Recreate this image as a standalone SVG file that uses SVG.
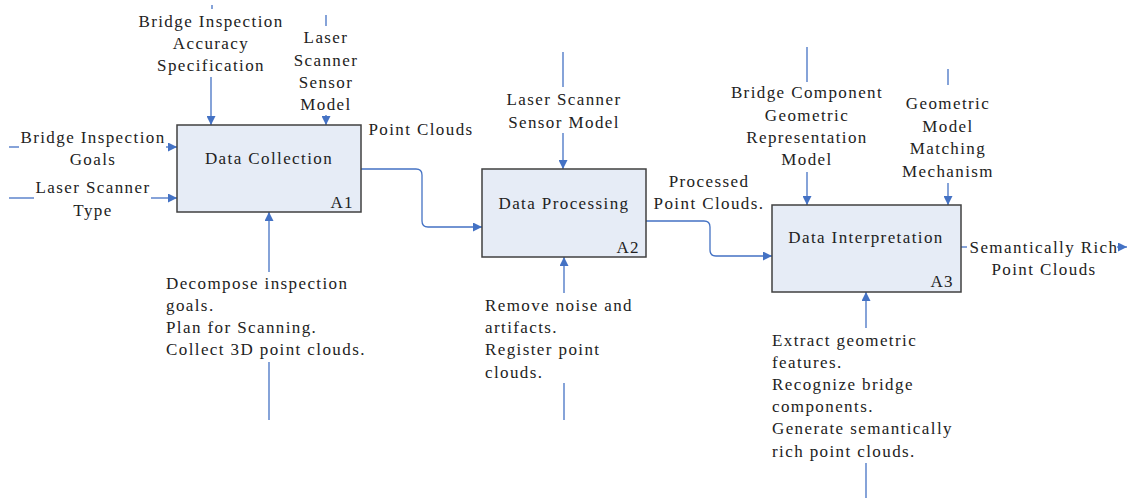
<svg xmlns="http://www.w3.org/2000/svg" width="1127" height="500" viewBox="0 0 1127 500">
<defs>
<marker id="arr" viewBox="0 0 10 10" refX="10" refY="5" markerWidth="9" markerHeight="9" markerUnits="userSpaceOnUse" orient="auto"><path d="M0,0 L10,5 L0,10 z" fill="#4472C4"/></marker>
<style>
.box{fill:#E6ECF6;stroke:#404040;stroke-width:1.5}
text{font-family:"Liberation Serif","Times New Roman",serif;font-size:17px;fill:#222;letter-spacing:1.4px}
.c{text-anchor:middle}
.e{text-anchor:end}
.ln{fill:none;stroke:#4472C4;stroke-width:1.3}
.a{marker-end:url(#arr)}
</style>
</defs>
<rect width="1127" height="500" fill="#fff"/>
<g id="connectors">
<path class="ln" d="M9,147 H19"/>
<path class="ln a" d="M166,147 H177"/>
<path class="ln" d="M9,198 H34"/>
<path class="ln a" d="M151,198 H177"/>
<path class="ln" d="M212,5 V9"/>
<path class="ln a" d="M211,77 V125"/>
<path class="ln" d="M326,15 V26"/>
<path class="ln a" d="M326,115 V125"/>
<path class="ln a" d="M269,272 V212"/>
<path class="ln" d="M269,362 V420"/>
<path class="ln a" d="M361,169 H416 Q422,169 422,175 V221 Q422,227 428,227 H482"/>
<path class="ln" d="M563,52 V87"/>
<path class="ln a" d="M563,133 V169"/>
<path class="ln a" d="M564,293 V257"/>
<path class="ln" d="M564,383 V420"/>
<path class="ln a" d="M646,221 H704 Q710,221 710,227 V250 Q710,256 716,256 H772"/>
<path class="ln" d="M807,47 V82"/>
<path class="ln a" d="M807,172 V205"/>
<path class="ln" d="M948,69 V85"/>
<path class="ln a" d="M948,183 V205"/>
<path class="ln a" d="M866,328 V292"/>
<path class="ln" d="M866,463 V498"/>
<path class="ln" d="M961,247 H967"/>
<path class="ln a" d="M1117,247 H1127"/>
</g>
<g id="A1">
<rect class="box" x="177" y="125" width="184" height="87"/>
<text class="c" x="269" y="164">Data Collection</text>
<text class="e" x="354" y="208">A1</text>
</g>
<g id="A2">
<rect class="box" x="482" y="169" width="164" height="88"/>
<text class="c" x="564" y="209">Data Processing</text>
<text class="e" x="640" y="253">A2</text>
</g>
<g id="A3">
<rect class="box" x="772" y="205" width="189" height="87"/>
<text class="c" x="866" y="243">Data Interpretation</text>
<text class="e" x="954" y="287">A3</text>
</g>
<g id="labels">
<text class="c" x="93" y="143">Bridge Inspection</text>
<text class="c" x="93" y="165">Goals</text>
<text class="c" x="93" y="193">Laser Scanner</text>
<text class="c" x="93" y="216">Type</text>
<text class="c" x="211" y="27">Bridge Inspection</text>
<text class="c" x="211" y="49">Accuracy</text>
<text class="c" x="211" y="71">Specification</text>
<text class="c" x="326" y="43">Laser</text>
<text class="c" x="326" y="66">Scanner</text>
<text class="c" x="326" y="88">Sensor</text>
<text class="c" x="326" y="110">Model</text>
<text class="c" x="421" y="135">Point Clouds</text>
<text x="166" y="289">Decompose inspection</text>
<text x="166" y="311">goals.</text>
<text x="166" y="333">Plan for Scanning.</text>
<text x="166" y="355">Collect 3D point clouds.</text>
<text class="c" x="564" y="105">Laser Scanner</text>
<text class="c" x="564" y="128">Sensor Model</text>
<text class="c" x="709" y="187">Processed</text>
<text class="c" x="709" y="209">Point Clouds.</text>
<text x="485" y="311">Remove noise and</text>
<text x="485" y="333">artifacts.</text>
<text x="485" y="355">Register point</text>
<text x="485" y="378">clouds.</text>
<text class="c" x="807" y="98">Bridge Component</text>
<text class="c" x="807" y="121">Geometric</text>
<text class="c" x="807" y="143">Representation</text>
<text class="c" x="807" y="165">Model</text>
<text class="c" x="948" y="109">Geometric</text>
<text class="c" x="948" y="132">Model</text>
<text class="c" x="948" y="154">Matching</text>
<text class="c" x="948" y="177">Mechanism</text>
<text class="c" x="1044" y="253">Semantically Rich</text>
<text class="c" x="1044" y="275">Point Clouds</text>
<text x="772" y="346">Extract geometric</text>
<text x="772" y="368">features.</text>
<text x="772" y="390">Recognize bridge</text>
<text x="772" y="412">components.</text>
<text x="772" y="434">Generate semantically</text>
<text x="772" y="457">rich point clouds.</text>
</g>
</svg>
